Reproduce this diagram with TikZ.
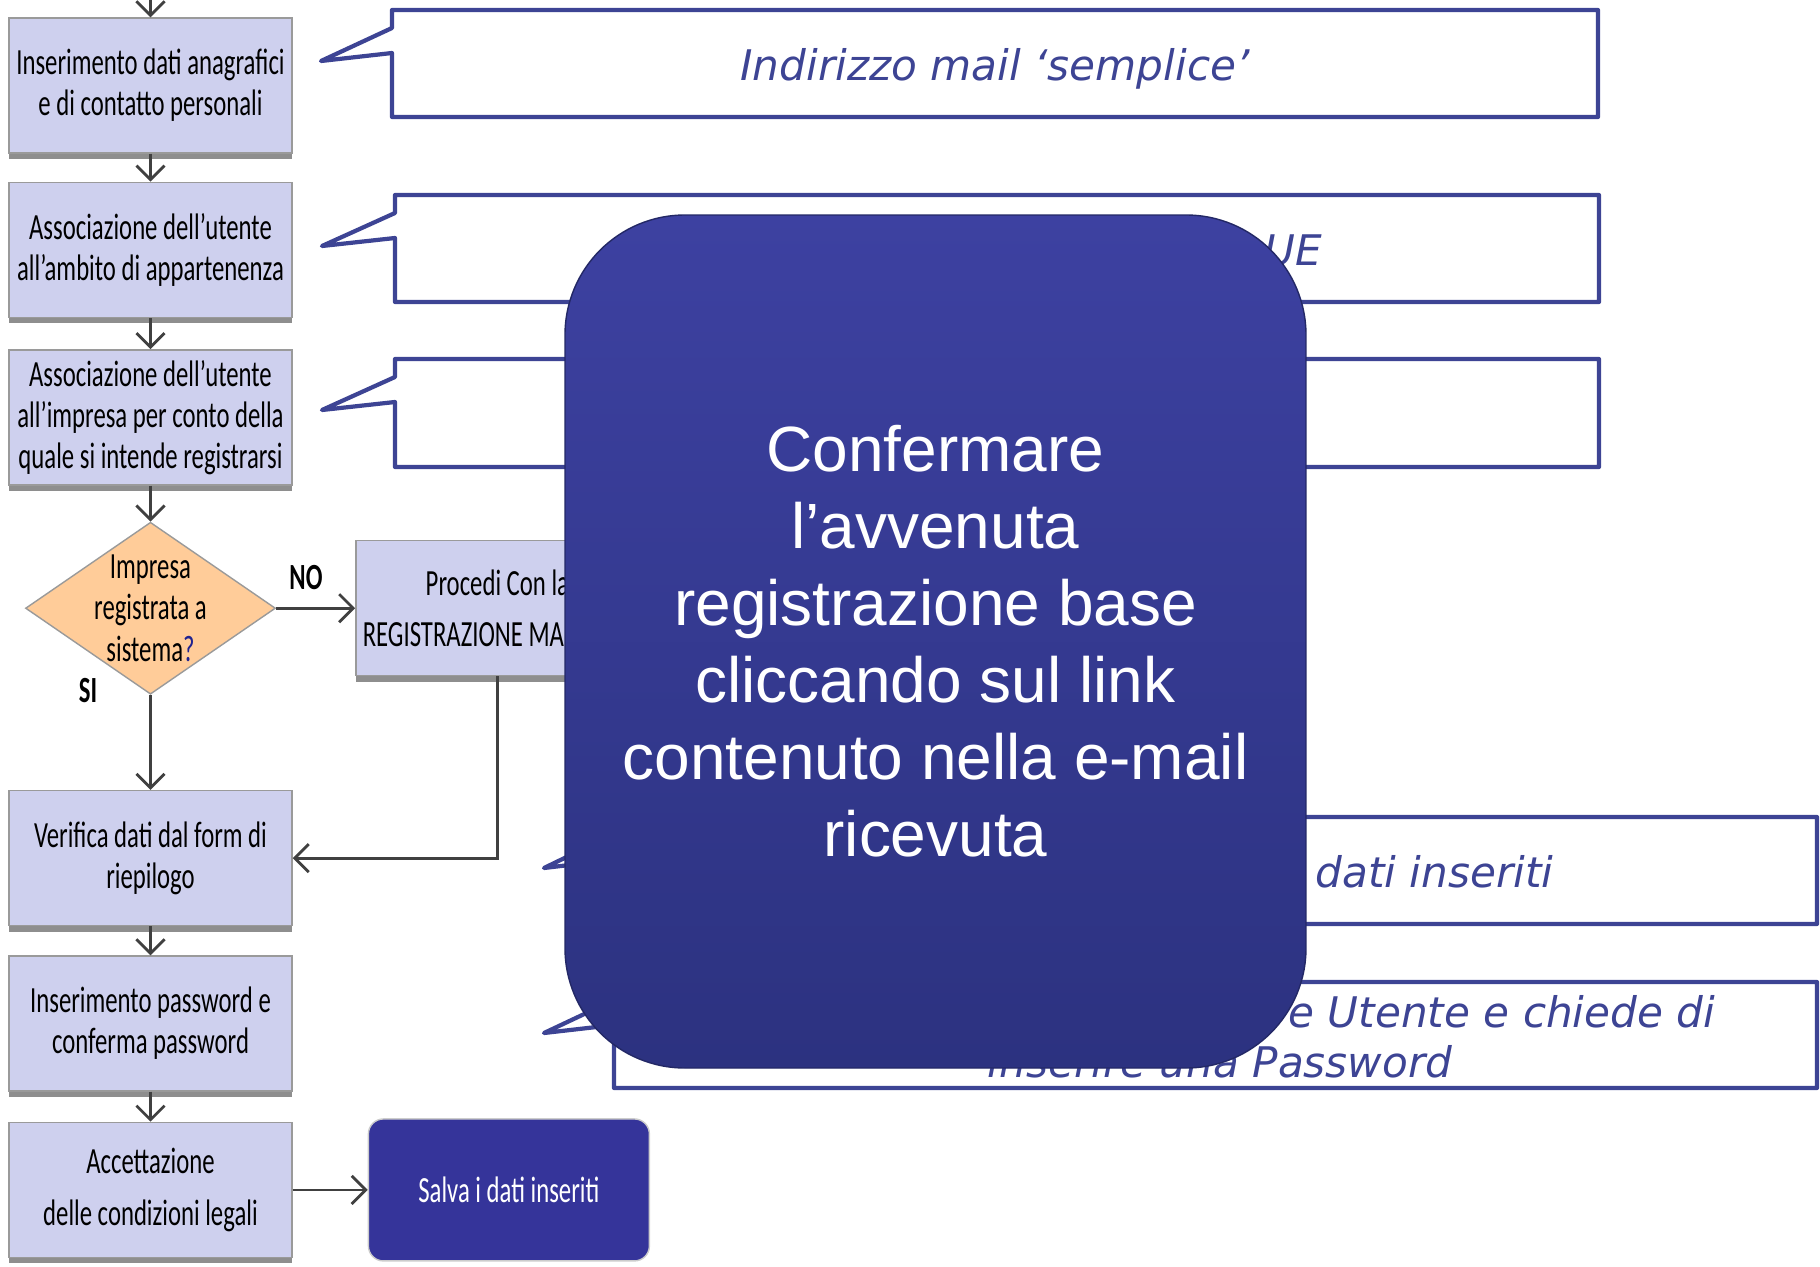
\documentclass[tikz,border=0pt]{standalone}
\usepackage{fontspec}
\setmainfont{Liberation Sans}
\newfontfamily\flowfont[FakeStretch=0.67]{Carlito}
\newfontfamily\notefont{DejaVu Sans}
\usepackage{xcolor}
\definecolor{cbox}{HTML}{CED0EE}
\definecolor{cedge}{HTML}{9A9A9A}
\definecolor{cshade}{HTML}{8E8E8E}
\definecolor{cpeach}{HTML}{FFCC99}
\definecolor{cnote}{HTML}{3D4494}
\definecolor{cdark}{HTML}{35349A}
\definecolor{ctop}{HTML}{3D41A1}
\definecolor{cbot}{HTML}{2C3280}
\definecolor{cline}{HTML}{404040}
\definecolor{cq}{HTML}{1F2290}
\usepackage{tikz}
\usetikzlibrary{arrows.meta,positioning,shapes.geometric,shadows}

% callout frame: left, right, top, bottom, tip x
\newcommand{\calloutbox}[5]{%
  \draw[noteline] (#1,#3) -- (#2,#3) -- (#2,#4) -- (#1,#4) -- (#1,{#3-0.43})
    -- (#5,{#3-0.51}) -- (#1,{#3-0.18}) -- cycle;}

\begin{document}
\begin{tikzpicture}[
  >={Straight Barb[length=4pt,width=8pt]},
  flow/.style={rectangle, draw=cedge, fill=cbox, minimum width=2.83cm, minimum height=1.35cm,
    inner sep=1pt, align=center, font=\flowfont\fontsize{10.5}{11.7}\selectfont,
    drop shadow={shadow xshift=0pt, shadow yshift=-0.6mm, fill=cshade, opacity=1}},
  decision/.style={diamond, draw=cedge, fill=cpeach, minimum width=2.5cm, minimum height=1.72cm, inner sep=0pt},
  flowtext/.style={align=center, inner sep=0pt, font=\flowfont\fontsize{10.5}{11.7}\selectfont},
  savebox/.style={rectangle, rounded corners=0.15cm, draw=gray!40, fill=cdark, text=white,
    minimum width=2.81cm, minimum height=1.42cm, font=\flowfont\fontsize{10.5}{11.7}\selectfont},
  noteline/.style={draw=cnote, line width=1.2pt, fill=white, line join=round},
  note/.style={text=cnote, inner sep=0pt, font=\notefont\itshape\fontsize{12}{14.2}\selectfont},
  bigbox/.style={rectangle, rounded corners=1.2cm, top color=ctop, bottom color=cbot, draw=cbot!80!black,
    minimum width=7.41cm, minimum height=8.53cm, text=white, align=center,
    font=\fontsize{18.2}{21.9}\selectfont},
  arrow/.style={->, draw=cline, line width=0.8pt},
]
  \useasboundingbox (0,0) rectangle (18.2,-12.67);

  % callouts on the right
  \calloutbox{3.92}{15.98}{-0.10}{-1.17}{3.21}
  \calloutbox{3.95}{15.99}{-1.95}{-3.02}{3.22}
  \calloutbox{3.95}{15.99}{-3.59}{-4.67}{3.22}
  \calloutbox{6.12}{18.17}{-8.17}{-9.24}{5.44}
  \calloutbox{6.14}{18.17}{-9.82}{-10.88}{5.44}
  \node[note] (mail) at (9.95,-0.69) {Indirizzo mail ‘semplice’};
  \node[note, anchor=east] (ue) at (13.23,-2.50) {UE};
  \node[note, anchor=west] (riep) at (13.15,-8.72) {dati inseriti};
  \node[note, anchor=base east] (nome) at (17.16,-10.27) {e Utente e chiede di};
  \node[note, anchor=base] (pwdnote) at (12.20,-10.77) {inserire una Password};

  % flow on the left
  \node[flow] (anag) at (1.505,-0.855) {Inserimento dati anagrafici\\e di contatto personali};
  \node[flow, below=0.28cm of anag] (ambito) {Associazione dell’utente\\all’ambito di appartenenza};
  \node[flow, below=0.31cm of ambito] (impresa) {Associazione dell’utente\\all’impresa per conto della\\quale si intende registrarsi};
  \node[decision, below=0.36cm of impresa] (reg) {};
  \node[flowtext] (regtxt) at (reg) {Impresa\\registrata a\\sistema{\color{cq}?}};
  \node[flow, right=0.79cm of reg] (manuale) {Procedi Con la\\[3pt]REGISTRAZIONE MANUALE};
  \node[flow, below=0.95cm of reg] (verifica) {Verifica dati dal form di\\riepilogo};
  \node[flow, below=0.29cm of verifica] (password) {Inserimento password e\\conferma password};
  \node[flow, below=0.30cm of password] (legali) {Accettazione\\[3pt]delle condizioni legali};
  \node[savebox, right=0.75cm of legali] (salva) {Salva i dati inseriti};
  \node[flowtext, font=\flowfont\bfseries\fontsize{10.5}{11.7}\selectfont] (no) at (3.06,-5.78) {NO};
  \node[flowtext, font=\flowfont\bfseries\fontsize{10.5}{11.7}\selectfont] (si) at (0.88,-6.91) {SI};
  \coordinate (start) at (1.505,0);

  \draw[arrow] (start) -- (anag);
  \draw[arrow] (anag) -- (ambito);
  \draw[arrow] (ambito) -- (impresa);
  \draw[arrow] (impresa) -- (reg);
  \draw[arrow] (reg) -- (manuale);
  \draw[arrow] (reg) -- (verifica);
  \draw[arrow] (manuale.south) |- (verifica.east);
  \draw[arrow] (verifica) -- (password);
  \draw[arrow] (password) -- (legali);
  \draw[arrow] (legali) -- (salva);

  % overlay box
  \node[bigbox] (conferma) at (9.355,-6.415) {Confermare\\l’avvenuta\\registrazione base\\cliccando sul link\\contenuto nella e-mail\\ricevuta};
\end{tikzpicture}
\end{document}
